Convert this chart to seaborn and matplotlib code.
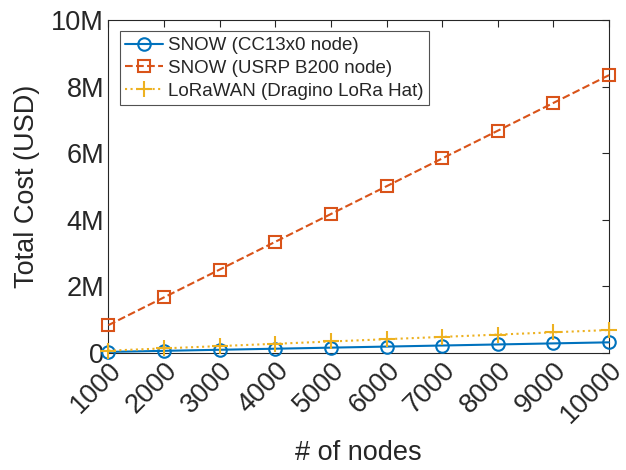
import numpy as np
import pandas as pd
import matplotlib
matplotlib.use("Agg")
import matplotlib.pyplot as plt
import seaborn as sns
from matplotlib.ticker import FuncFormatter

# ── DATA ──────────────────────────────────────────────────
nodes = [1000, 2000, 3000, 4000, 5000, 6000, 7000, 8000, 9000, 10000]
snow_cc13x0 = [0.032e6, 0.064e6, 0.096e6, 0.128e6, 0.160e6, 0.192e6, 0.224e6, 0.256e6, 0.288e6, 0.320e6]
snow_usrp = [0.835e6, 1.67e6, 2.505e6, 3.34e6, 4.175e6, 5.01e6, 5.845e6, 6.68e6, 7.515e6, 8.35e6]
lorawan = [0.069e6, 0.138e6, 0.207e6, 0.276e6, 0.345e6, 0.414e6, 0.483e6, 0.552e6, 0.621e6, 0.69e6]
labels = ["SNOW (CC13x0 node)", "SNOW (USRP B200 node)", "LoRaWAN (Dragino LoRa Hat)"]

df = pd.DataFrame({"nodes": nodes * 3,
                   "cost": snow_cc13x0 + snow_usrp + lorawan,
                   "series": np.repeat(labels, len(nodes))})

# ── PLOT ──────────────────────────────────────────────────
sns.set_style("white")
plt.rcParams["font.family"] = ["Liberation Sans", "DejaVu Sans"]

fig, ax = plt.subplots(figsize=(6.26, 4.70), dpi=100)
colors = ["#0072BD", "#D95319", "#EDB120"]
markers = ["o", "s", "+"]
styles = ["-", "--", ":"]
for lab, c, m, ls in zip(labels, colors, markers, styles):
    sub = df[df["series"] == lab]
    sns.lineplot(data=sub, x="nodes", y="cost", ax=ax, color=c, marker=m, linestyle=ls,
                 linewidth=1.5, markersize=9 if m != "+" else 12, markerfacecolor="none",
                 markeredgecolor=c, markeredgewidth=1.5, label=lab, clip_on=False, zorder=3)

ax.set_xlim(1000, 10000)
ax.set_ylim(0, 10e6)
ax.set_xticks(nodes)
ax.set_yticks([0, 2e6, 4e6, 6e6, 8e6, 10e6])
ax.yaxis.set_major_formatter(FuncFormatter(lambda v, p: "0" if v == 0 else f"{int(v/1e6)}M"))
ax.tick_params(direction="in", length=5, width=0.8, labelsize=19.5, top=True, right=True,
               colors="#262626", pad=3)
plt.setp(ax.get_xticklabels(), rotation=45, ha="right", rotation_mode="anchor")
for s in ax.spines.values():
    s.set_color("#262626")
    s.set_linewidth(0.8)
ax.set_xlabel("# of nodes", fontsize=19.5, color="#262626", labelpad=8)
ax.set_ylabel("Total Cost (USD)", fontsize=19.5, color="#262626", labelpad=8)

leg = ax.legend(loc="upper left", fontsize=13.5, frameon=True, fancybox=False,
                borderpad=0.3, labelspacing=0.3, handlelength=2.0, handletextpad=0.3,
                borderaxespad=0.6)
leg.get_frame().set_edgecolor("#262626")
leg.get_frame().set_linewidth(0.8)

fig.subplots_adjust(left=0.173, right=0.973, top=0.957, bottom=0.249)
fig.savefig("out.png", dpi=100)
